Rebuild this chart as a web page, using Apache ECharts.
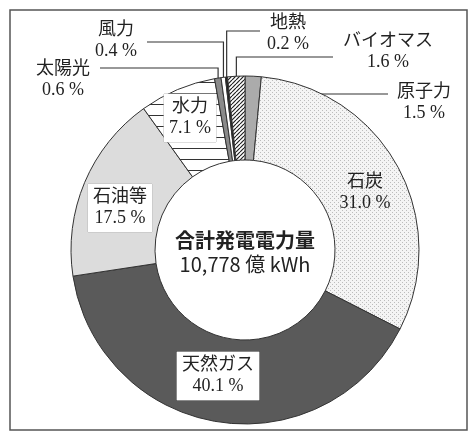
<!DOCTYPE html>
<html><head><meta charset="utf-8">
<script src="https://cdn.jsdelivr.net/npm/echarts@6/dist/echarts.min.js"></script>
<style>html,body{margin:0;padding:0;background:#fff}#c{width:475px;height:435px}</style>
</head><body><div id="c"></div>
<script>
// ---- data ----
const categories = ['原子力','石炭','天然ガス','石油等','水力','太陽光','風力','地熱','バイオマス'];
const shares = [1.5, 31.0, 40.1, 17.5, 7.1, 0.6, 0.4, 0.2, 1.6];
const centerTitle = '合計発電電力量';
const centerTotal = '10,778 億 kWh';

// ---- patterns ----
function pat(w,h,draw){const c=document.createElement('canvas');c.width=w;c.height=h;const g=c.getContext('2d');draw(g);return {image:c,repeat:'repeat'};}
const dots = pat(4,4,g=>{g.fillStyle='#f4f4f4';g.fillRect(0,0,4,4);g.fillStyle='#bcbcbc';g.fillRect(0,0,1,1);g.fillRect(2,2,1,1);});
const hlines = pat(8,11,g=>{g.fillStyle='#fff';g.fillRect(0,0,8,11);g.fillStyle='#333';g.fillRect(0,5,8,1);});
const hatch = pat(4,4,g=>{g.fillStyle='#fff';g.fillRect(0,0,4,4);g.strokeStyle='#222';g.lineWidth=1.2;for(let i=-1;i<=1;i++){g.beginPath();g.moveTo(i*4,4);g.lineTo(i*4+4,0);g.stroke();}});
const fills = {'原子力':'#ababab','石炭':dots,'天然ガス':'#5a5a5a','石油等':'#dcdcdc','水力':hlines,'太陽光':'#8a8a8a','風力':'#ffffff','地熱':'#222222','バイオマス':hatch};

// label placement (annotation layout)
const labelCfg = {
  '原子力':{x:424,y:103,lineY:94,lineX:388,inner:true},
  '石炭':{x:365,y:193},
  '天然ガス':{x:218,y:376,box:true},
  '石油等':{x:120,y:208,box:true},
  '水力':{x:190,y:118,box:true},
  '太陽光':{x:63,y:80,lineY:68,lineX:100},
  '風力':{x:116,y:41,lineY:42,lineX:147},
  '地熱':{x:288,y:34,lineY:31,lineX:260},
  'バイオマス':{x:388,y:52,lineY:57,lineX:333}
};
const CX=245, CY=250, R_IN=90, R_OUT=174;
const total = shares.reduce((a,b)=>a+b,0);
function midPoint(i, r){let cum=0;for(let k=0;k<i;k++)cum+=shares[k];const a=(cum+shares[i]/2)/total*2*Math.PI;return [CX+r*Math.sin(a), CY-r*Math.cos(a)];}

const FONT = "'Liberation Serif','Noto Sans CJK JP',serif";
const data = categories.map((n,i)=>{
  const c = labelCfg[n];
  const outside = !!c.lineY;
  return {
    name:n, value:shares[i],
    itemStyle:{color:fills[n]},
    label:{position: outside?'outside':'inside',
      backgroundColor: c.box?'#fff':'transparent', padding: c.box?[3,5]:0,
      borderColor: c.box?'#bbb':'transparent', borderWidth: c.box?0.5:0},
    labelLine:{show: outside, lineStyle:{color:'#333',width:1.2}}
  };
});

const chart = echarts.init(document.getElementById('c'), null, {renderer:'canvas'});
chart.setOption({
  animation:false,
  backgroundColor:'#fff',
  graphic:[
    {type:'rect', shape:{x:10,y:10,width:457,height:420}, style:{fill:'none',stroke:'#555',lineWidth:1.5}, z:-1},
    {type:'text', x:CX, y:240, style:{text:centerTitle, font:"bold 20px 'Noto Sans CJK JP'", fill:'#222', textAlign:'center', textVerticalAlign:'middle'}, z:10},
    {type:'text', x:CX, y:264, style:{text:centerTotal, font:"20px 'Noto Sans CJK JP'", fill:'#222', textAlign:'center', textVerticalAlign:'middle'}, z:10}
  ],
  series:[{
    type:'pie', silent:true, startAngle:90, clockwise:true, avoidLabelOverlap:false,
    center:[CX, CY], radius:[R_IN, R_OUT],
    itemStyle:{borderColor:'#333', borderWidth:1},
    label:{show:true, color:'#222', fontFamily:FONT, fontSize:18, lineHeight:21, align:'center',
      formatter:p=>p.name+'\n'+p.value.toFixed(1)+' %'},
    labelLayout:function(params){
      const n = categories[params.dataIndex];
      const c = labelCfg[n];
      const res = {x:c.x, y:c.y, align:'center', verticalAlign:'middle'};
      if(c.lineY){
        if(c.inner){
          const p = midPoint(params.dataIndex, 160);
          res.labelLinePoints = [[p[0]+3, c.lineY],[c.lineX, c.lineY]];
        } else {
          const p = midPoint(params.dataIndex, R_OUT-2);
          res.labelLinePoints = [[p[0], p[1]],[p[0], c.lineY],[c.lineX, c.lineY]];
        }
      }
      return res;
    },
    data:data
  }]
});
</script></body></html>
